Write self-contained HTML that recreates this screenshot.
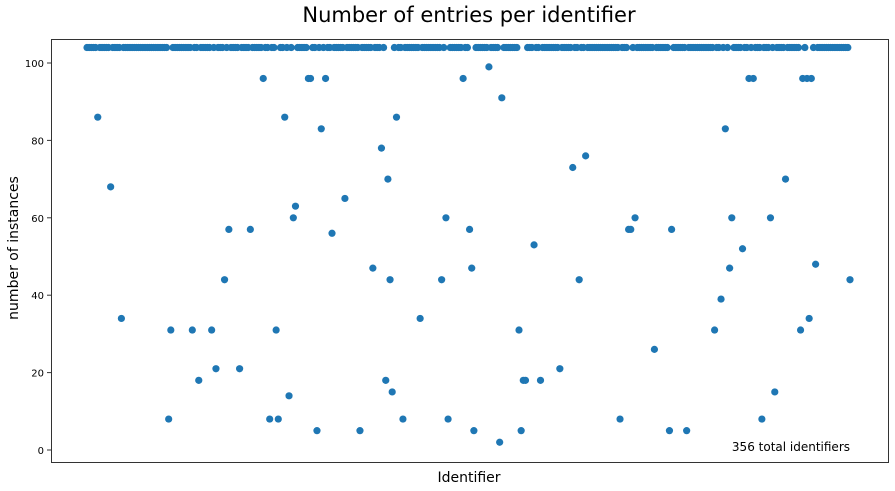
<!DOCTYPE html>
<html><head><meta charset="utf-8"><style>
html,body{margin:0;padding:0;background:#fff;}
svg{display:block;font-family:"DejaVu Sans","Liberation Sans",sans-serif;}
</style></head><body>
<svg id="chart" width="895" height="491" viewBox="0 0 895 491">
<text x="469" y="22" font-size="21" text-anchor="middle" fill="#000">Number of entries per identifier</text>
<text transform="translate(18,248) rotate(-90)" font-size="14" text-anchor="middle" fill="#000">number of instances</text>
<text x="469" y="482" font-size="14" text-anchor="middle" fill="#000">Identifier</text>
<g id="yaxis"></g>
<g id="points"></g>
<rect x="51.5" y="39.5" width="837" height="423" fill="none" stroke="#333" stroke-width="1"/>
<text x="850" y="451" font-size="12" text-anchor="end" fill="#000">356 total identifiers</text>
</svg>
<script>
const yTicks = [0, 20, 40, 60, 80, 100];
const counts = [
104,104,104,104,104,86,104,104,104,104,104,68,104,104,104,104,34,104,104,104,
104,104,104,104,104,104,104,104,104,104,104,104,104,104,104,104,104,104,8,31,
104,104,104,104,104,104,104,104,104,31,104,104,18,104,104,104,104,104,31,104,
21,104,104,104,44,104,57,104,104,104,104,21,104,104,104,104,57,104,104,104,
104,104,96,104,104,8,104,104,31,8,104,104,86,104,14,104,60,63,104,104,
104,104,104,96,96,104,104,5,104,83,104,96,104,104,56,104,104,104,104,104,
65,104,104,104,104,104,104,5,104,104,104,104,104,47,104,104,104,78,104,18,
70,44,15,104,86,104,104,8,104,104,104,104,104,104,104,34,104,104,104,104,
104,104,104,104,104,44,104,60,8,104,104,104,104,104,104,96,104,104,57,47,
5,104,104,104,104,104,104,99,104,104,104,104,2,91,104,104,104,104,104,104,
104,31,5,18,18,104,104,104,53,104,104,18,104,104,104,104,104,104,104,104,
21,104,104,104,104,104,73,104,104,44,104,104,76,104,104,104,104,104,104,104,
104,104,104,104,104,104,104,104,8,104,104,104,57,57,104,60,104,104,104,104,
104,104,104,104,26,104,104,104,104,104,104,5,57,104,104,104,104,104,104,5,
104,104,104,104,104,104,104,104,104,104,104,104,31,104,104,39,104,83,104,47,
60,104,104,104,104,52,104,104,96,104,96,104,104,104,8,104,104,104,60,104,
15,104,104,104,104,70,104,104,104,104,104,104,31,96,104,96,34,96,104,48,
104,104,104,104,104,104,104,104,104,104,104,104,104,104,104,44
];
const NS = "http://www.w3.org/2000/svg";
const xFirst = 87, xLast = 850;
function xScale(i){ return xFirst + i * (xLast - xFirst) / (counts.length - 1); }
function yScale(v){ return 450 - v * 3.87; }
const yg = document.getElementById('yaxis');
yTicks.forEach(t => {
  const y = yScale(t);
  const ln = document.createElementNS(NS, 'line');
  
  
  ln.setAttribute('x1', 47); ln.setAttribute('x2', 51.5);
  ln.setAttribute('y1', y); ln.setAttribute('y2', y);
  ln.setAttribute('stroke', '#333');
  yg.appendChild(ln);
  const tx = document.createElementNS(NS, 'text');
  
  
  tx.setAttribute('x', 44); tx.setAttribute('y', y + 4);
  tx.setAttribute('font-size', '10');
  tx.setAttribute('text-anchor', 'end');
  tx.textContent = t;
  yg.appendChild(tx);
});
const pg = document.getElementById('points');
counts.forEach((v, i) => {
  const c = document.createElementNS(NS, 'circle');
  
  
  c.setAttribute('cx', xScale(i));
  c.setAttribute('cy', yScale(v));
  c.setAttribute('r', 3.6);
  c.setAttribute('fill', '#1f77b4');
  pg.appendChild(c);
});
</script>
</body></html>
